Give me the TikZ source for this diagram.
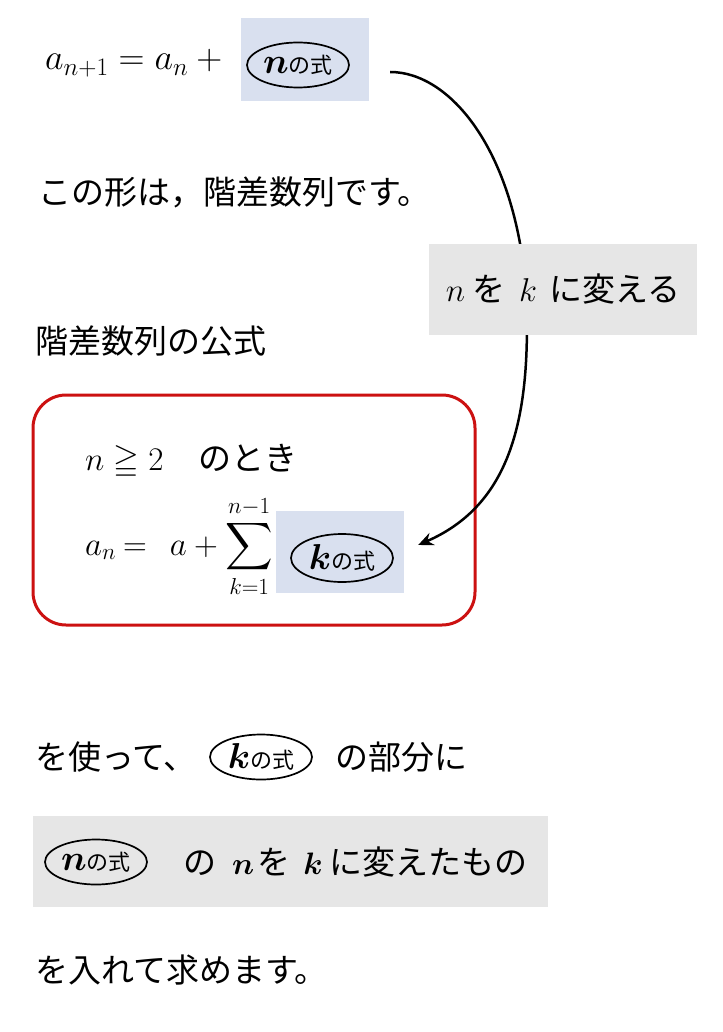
\RequirePackage{fix-cm}
\documentclass[tikz,border=0pt]{standalone}
\usepackage{amsmath,amssymb}
\usepackage{fontspec}
\setmainfont{Noto Sans CJK JP}
\usetikzlibrary{shapes.geometric,arrows.meta}
\definecolor{aoiro}{RGB}{217,224,239}
\definecolor{haiiro}{RGB}{230,230,230}
\definecolor{akawaku}{RGB}{204,17,17}
\newcommand{\shikitext}[1]{{\fontsize{36}{36}\selectfont\boldmath$#1$}{\fontsize{22}{22}\selectfont の式}}
\newcommand{\futomoji}[1]{{\fontsize{31}{31}\selectfont\boldmath$#1$}}
\tikzset{
	aobox/.style={fill=aoiro,minimum width=128pt,minimum height=83pt},
	haibox/.style={fill=haiiro},
	shiki/.style={draw,ellipse,line width=1.7pt,minimum width=102pt,minimum height=45pt},
	bun/.style={anchor=west},
	henkan/.style={line width=2.5pt,-{Stealth[length=15pt,width=13pt,inset=5pt]}}
}

\begin{document}
\begin{tikzpicture}[x=1pt,y=-1pt]
	\tikzstyle{every node}+=[inner sep=0pt,font=\fontsize{33}{40}\selectfont]
	\useasboundingbox (0,0) rectangle (722,1032);
	\node [anchor=base west,font=\fontsize{36}{40}\selectfont] (zenka) at (45,70) {$a_{n+1}=a_n+{}$};
	\node [aobox] (nbox) at (305,59.5) {};
	\node [shiki] (nshiki) at (298,65) {\shikitext{n}};
	\node [bun] (katachi) at (38,192) {この形は，階差数列です。};
	\node [bun] (koushiki) at (35,341) {階差数列の公式};
	\draw [akawaku,line width=3pt,rounded corners=33pt] (33,395) rectangle (475,625);
	\node [anchor=base west] (jouken) at (85,470) {$n\geqq2$\hspace{35pt}のとき};
	\node [anchor=base west] (ippan) at (85,555) {$a_n$\hspace{7pt}$=$\hspace{23pt}$a+\displaystyle\sum_{k=1}^{n-1}$};
	\node [aobox,minimum height=82pt] (kbox) at (340,552) {};
	\node [shiki,minimum height=48pt] (kshiki) at (342,558) {\shikitext{k}};
	\coordinate (from) at ([xshift=21pt,yshift=-12.5pt]nbox.east);
	\coordinate (to) at ([xshift=14pt,yshift=7pt]kbox.east);
	\coordinate (turn) at (526,290);
	\draw [henkan] (from) .. controls (450,72) and (515,150) .. (turn) .. controls (532,420) and (510,505) .. (to);
	\node [haibox,minimum width=268pt,minimum height=91pt] (henkanbox) at (563,289.5) {$n$\hspace{7pt}を\hspace{14pt}$k$\hspace{12pt}に変える};
	\node [bun] (tsukau) at (35,757) {を使って、};
	\node [shiki] (kshiki2) at (261,757) {\shikitext{k}};
	\node [bun] (bubun) at (335,757) {の部分に};
	\node [haibox,minimum width=515pt,minimum height=91pt] (irekae) at (290.5,861.5) {};
	\node [shiki] (nshiki2) at (96,862) {\shikitext{n}};
	\node [bun] (kaeta) at (183,862) {の\hspace{16pt}\futomoji{n}\hspace{3pt}を\hspace{13pt}\futomoji{k}\hspace{7pt}に変えたもの};
	\node [bun] (motomeru) at (35,970) {を入れて求めます。};
\end{tikzpicture}
\end{document}
